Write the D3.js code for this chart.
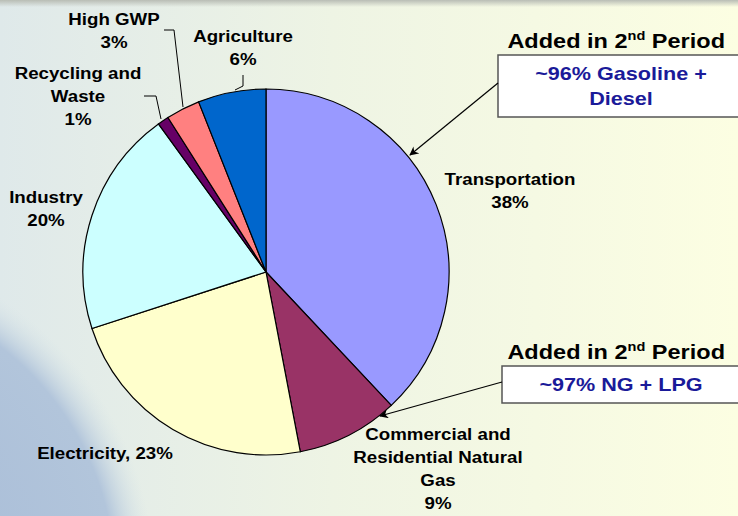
<!DOCTYPE html>
<html>
<head>
<meta charset="utf-8">
<script src="https://cdn.jsdelivr.net/npm/d3@7"></script>
<style>
  html, body { margin: 0; padding: 0; }
  body { width: 738px; height: 516px; overflow: hidden; font-family: "Liberation Sans", Arial, sans-serif; }
</style>
</head>
<body>
<div id="chart"></div>
<script>
// Sector shares (percent), clockwise from 12 o'clock
const sectors = ["Transportation", "Commercial and Residential Natural Gas", "Electricity", "Industry", "Recycling and Waste", "High GWP", "Agriculture"];
const shares = [38, 9, 23, 20, 1, 3, 6];
const colors = ["#9999ff", "#993366", "#ffffcc", "#ccffff", "#660066", "#ff8080", "#0066cc"];

// label lines for each slice (last line is the percentage)
const labelLines = [
    ["Transportation", "38%"],
    ["Commercial and", "Residential Natural", "Gas", "9%"],
    ["Electricity, 23%"],
    ["Industry", "20%"],
    ["Recycling and", "Waste", "1%"],
    ["High GWP", "3%"],
    ["Agriculture", "6%"]
];

const width = 738;
const height = 516;
const cx = 266, cy = 272, radius = 183;

const svg = d3.select("#chart")
    .append("svg")
    .attr("width", width)
    .attr("height", height);

// Background: pale slide gradient + faint earth in the lower left
const defs = svg.append("defs");
const bg = defs.append("linearGradient").attr("id", "bg").attr("x1", "0").attr("x2", "1").attr("y1", "0").attr("y2", "0");
bg.append("stop").attr("offset", "0").attr("stop-color", "#dfe9ea");
bg.append("stop").attr("offset", "0.45").attr("stop-color", "#eef4e4");
bg.append("stop").attr("offset", "1").attr("stop-color", "#fcfee2");

const topBand = defs.append("linearGradient").attr("id", "topband").attr("x1", "0").attr("x2", "0").attr("y1", "0").attr("y2", "1");
topBand.append("stop").attr("offset", "0").attr("stop-color", "#b9bdb5").attr("stop-opacity", 1);
topBand.append("stop").attr("offset", "1").attr("stop-color", "#b9bdb5").attr("stop-opacity", 0);

const earth = defs.append("radialGradient").attr("id", "earth");
earth.append("stop").attr("offset", "0").attr("stop-color", "#a3b8d6");
earth.append("stop").attr("offset", "0.88").attr("stop-color", "#b2c5db");
earth.append("stop").attr("offset", "1").attr("stop-color", "#d6e3e6").attr("stop-opacity", 0);

const arrow = defs.append("marker")
    .attr("id", "arrow")
    .attr("viewBox", "0 0 10 10")
    .attr("refX", 9).attr("refY", 5)
    .attr("markerWidth", 9).attr("markerHeight", 9)
    .attr("markerUnits", "userSpaceOnUse")
    .attr("orient", "auto");
arrow.append("path").attr("d", "M0,0 L10,5 L0,10 L3,5 Z").attr("fill", "#000");

svg.append("rect").attr("width", width).attr("height", height).attr("fill", "url(#bg)");
svg.append("circle").attr("cx", -180).attr("cy", 580).attr("r", 335).attr("fill", "url(#earth)");
svg.append("rect").attr("width", width).attr("height", 7).attr("fill", "url(#topband)");

// Pie
const pie = d3.pie().value((d) => d).sort(null);
const arc = d3.arc().innerRadius(0).outerRadius(radius);

const g = svg.append("g").attr("transform", `translate(${cx},${cy})`);

g.selectAll(".slice")
    .data(pie(shares))
    .enter()
    .append("path")
    .attr("class", "slice")
    .attr("d", arc)
    .attr("fill", (d, i) => colors[i])
    .attr("stroke", "#000")
    .attr("stroke-width", 1.2);

// text helper: centred, slightly stretched horizontally like the slide
function stretchedText(x, y, lines, size, sx, gap, fill) {
    const t = svg.append("g")
        .attr("transform", `translate(${x},${y}) scale(${sx},1)`)
        .append("text")
        .attr("text-anchor", "middle")
        .style("font-size", size + "px")
        .style("font-weight", "bold")
        .attr("fill", fill);
    lines.forEach((ln, j) => {
        t.append("tspan").attr("x", 0).attr("y", j * gap).text(ln);
    });
    return t;
}

// Label anchors (centre x, first baseline y)
const labelPos = [
    [510, 185],
    [438, 440],
    [105, 459],
    [46, 203],
    [78, 79],
    [114, 25],
    [243, 42]
];

labelLines.forEach((lines, i) => {
    stretchedText(labelPos[i][0], labelPos[i][1], lines, 17, 1.1, 23, "#000");
});

// Leader lines for the small slices
const leaders = [
    [[164, 30], [174, 30], [183, 107]],
    [[243, 75], [243, 86], [235, 90]],
    [[144, 96], [156, 96], [161, 119]]
];
svg.selectAll(".leader")
    .data(leaders)
    .enter()
    .append("path")
    .attr("class", "leader")
    .attr("d", d3.line())
    .attr("fill", "none")
    .attr("stroke", "#000")
    .attr("stroke-width", 1);

// Callouts
const callouts = [
    { x: 498, y: 55, w: 246, h: 62, lines: ["~96% Gasoline +", "Diesel"], titleY: 48, from: [498, 83], to: [410, 155] },
    { x: 502, y: 366, w: 246, h: 37, lines: ["~97% NG + LPG"], titleY: 359, from: [502, 382], to: [380, 416] }
];

callouts.forEach((c) => {
    const title = svg.append("g")
        .attr("transform", `translate(725,${c.titleY}) scale(1.12,1)`)
        .append("text")
        .attr("text-anchor", "end")
        .style("font-size", "21px")
        .style("font-weight", "bold")
        .attr("fill", "#000");
    title.append("tspan").text("Added in 2");
    title.append("tspan").attr("dy", -8).style("font-size", "13px").text("nd");
    title.append("tspan").attr("dy", 8).text(" Period");

    svg.append("rect")
        .attr("x", c.x).attr("y", c.y)
        .attr("width", c.w).attr("height", c.h)
        .attr("fill", "#fff")
        .attr("stroke", "#555")
        .attr("stroke-width", 1.5);

    stretchedText(621, c.y + 25, c.lines, 18, 1.2, 25, "#1a1a99");

    svg.append("line")
        .attr("x1", c.from[0]).attr("y1", c.from[1])
        .attr("x2", c.to[0]).attr("y2", c.to[1])
        .attr("stroke", "#000")
        .attr("stroke-width", 1.2)
        .attr("marker-end", "url(#arrow)");
});
</script>
</body>
</html>
